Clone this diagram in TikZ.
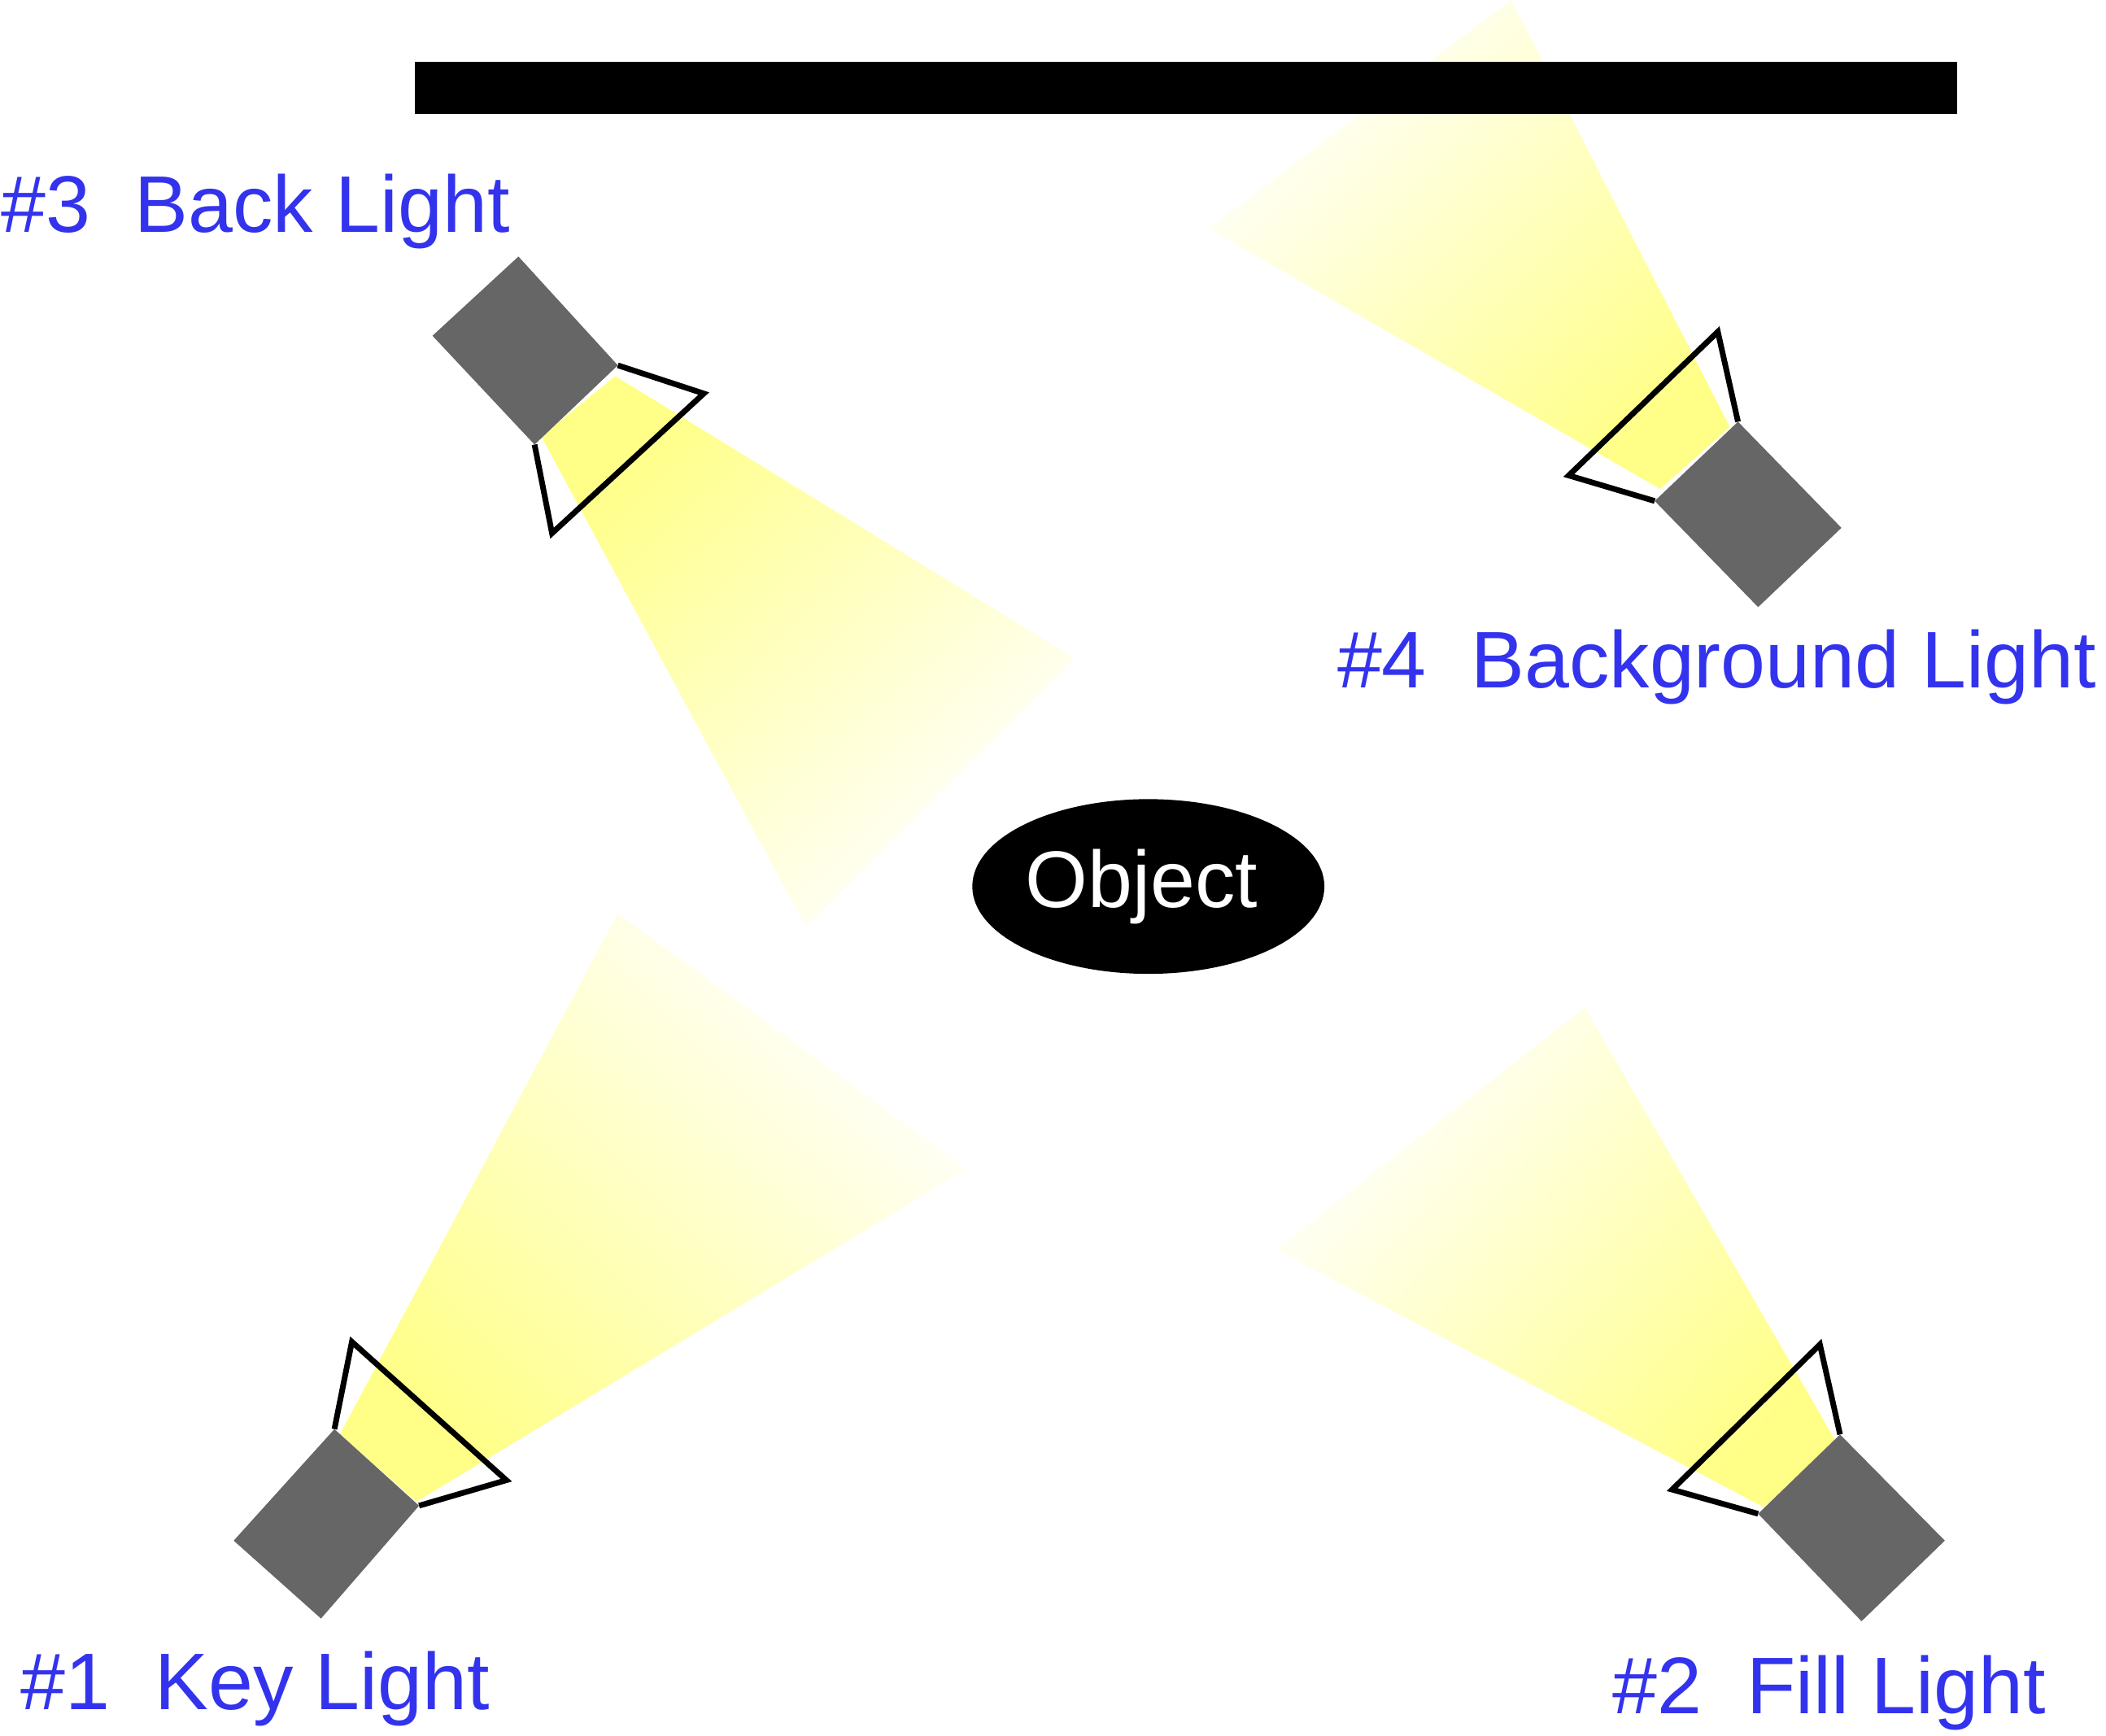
\documentclass[tikz,border=0pt]{standalone}
\usepackage{fontspec}
\setmainfont{Liberation Sans}
\usetikzlibrary{shapes.geometric}
\definecolor{labelblue}{HTML}{3333EE}
\definecolor{lampgray}{HTML}{666666}
\definecolor{beamyellow}{HTML}{FFFF88}

\tikzset{
    lamp/.style={fill=lampgray, draw=none},
    reflector/.style={draw=black, line width=1.2pt, line join=miter},
    beam/.style={shading=axis, top color=white, middle color=beamyellow!18, bottom color=beamyellow, shading angle=#1},
    label/.style={text=labelblue, font=\fontsize{17}{20}\selectfont, inner sep=0pt, anchor=base west}
}

\begin{document}
\begin{tikzpicture}[x=0.01cm, y=-0.01cm]
    \useasboundingbox (0,0) rectangle (1568,1292);

    % beams
    \shade[beam=-44] (253,1068) -- (310,1118) -- (720,870) -- (460,680) -- cycle;
    \shade[beam=47]  (1368,1075) -- (1313,1122) -- (950,930) -- (1180,750) -- cycle;
    \shade[beam=-137] (403,325) -- (458,280) -- (800,490) -- (600,690) -- cycle;
    \shade[beam=44]  (1288,318) -- (1236,364) -- (900,170) -- (1125,0) -- cycle;

    % backdrop
    \fill[black] (309,46) rectangle (1457,85);

    % #1 key light
    \draw[reflector] (249,1064) -- (262,999) -- (377,1102) -- (312,1121);
    \fill[lamp] (174,1147) -- (249,1064) -- (312,1121) -- (239,1205) -- cycle;
    % #2 fill light
    \draw[reflector] (1370,1068) -- (1355,1001) -- (1245,1109) -- (1309,1127);
    \fill[lamp] (1309,1127) -- (1370,1068) -- (1448,1147) -- (1386,1207) -- cycle;
    % #3 back light
    \draw[reflector] (460,272) -- (524,293) -- (411,397) -- (398,331);
    \fill[lamp] (322,250) -- (386,191) -- (460,272) -- (398,331) -- cycle;
    % #4 background light
    \draw[reflector] (1294,314) -- (1279,247) -- (1168,354) -- (1232,373);
    \fill[lamp] (1232,373) -- (1294,314) -- (1371,393) -- (1309,452) -- cycle;

    % object
    \node[ellipse, fill=black, inner sep=0pt, minimum width=2.62cm, minimum height=1.3cm,
          text=white, font=\fontsize{17}{20}\selectfont] (object) at (855,660) {Object\,};

    % labels
    \node[label] (backlbl) at (0,173) {\#3\ \ Back Light};
    \node[label] (bglbl) at (995,512) {\#4\ \ Background Light};
    \node[label] (keylbl) at (15,1273) {\#1\ \ Key Light};
    \node[label] (filllbl) at (1200,1276) {\#2\ \ Fill Light};
\end{tikzpicture}
\end{document}
